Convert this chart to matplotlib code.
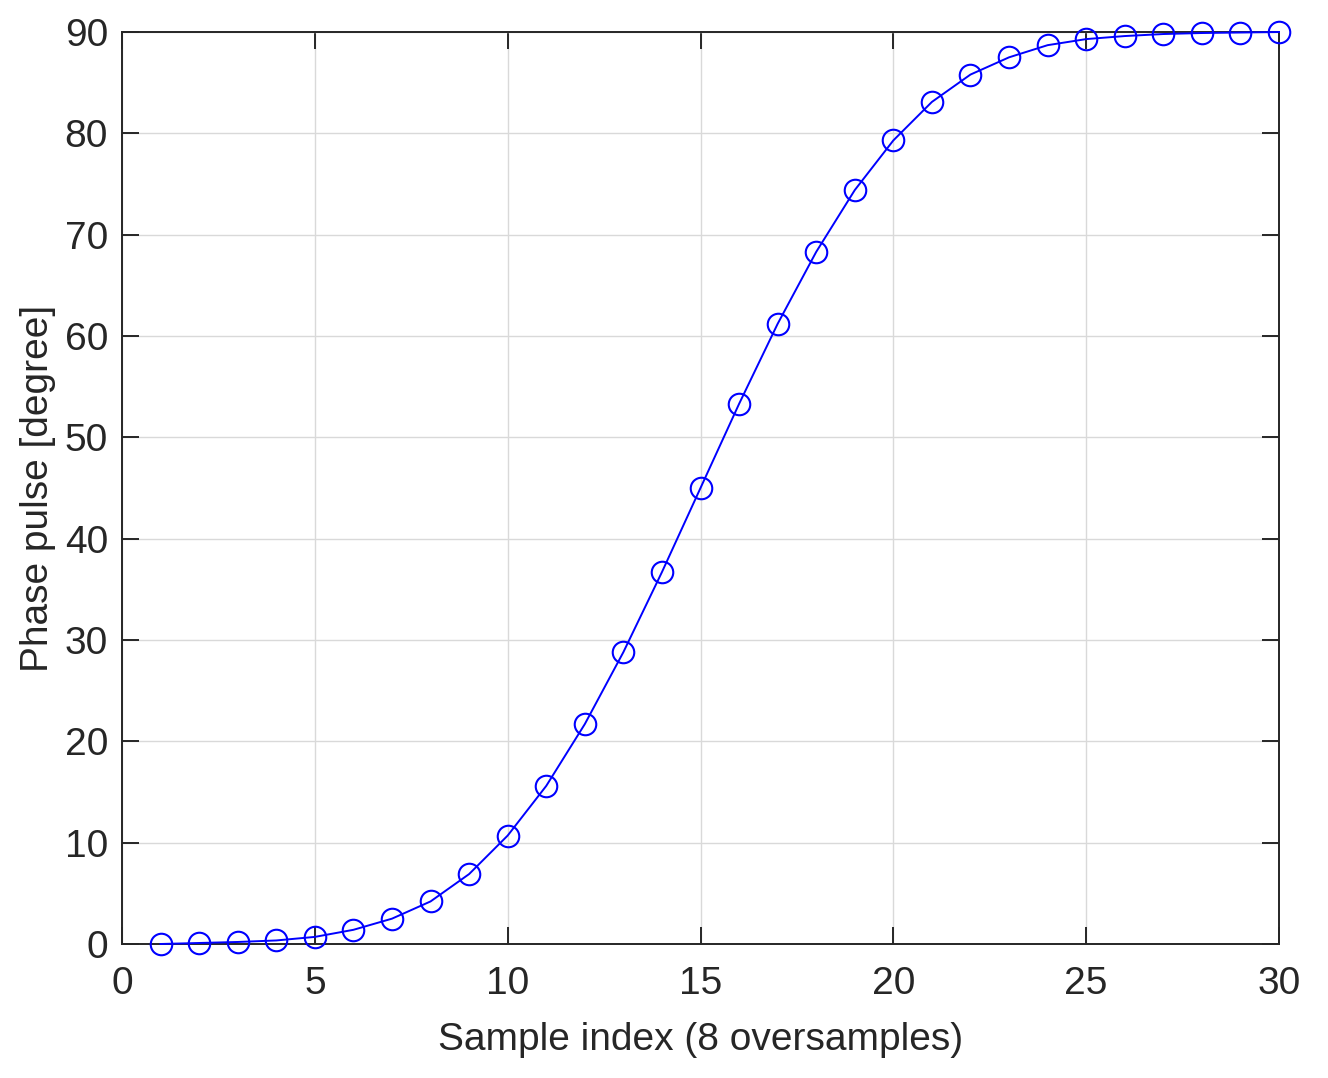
import matplotlib.pyplot as plt
import numpy as np

plt.rcParams["font.family"] = ["Liberation Sans", "DejaVu Sans"]

# sample index and phase pulse value (degree)
sample_idx = np.arange(1, 31)
phase_deg = [0.0, 0.1, 0.2, 0.35, 0.7, 1.4, 2.5, 4.2, 6.9, 10.7,
             15.6, 21.7, 28.8, 36.7, 45.0, 53.3, 61.2, 68.3, 74.4, 79.3,
             83.1, 85.8, 87.5, 88.7, 89.3, 89.6, 89.8, 89.9, 89.95, 90.0]

AX_COLOR = "#262626"

fig = plt.figure(figsize=(13.28, 10.78), dpi=100)
ax = fig.add_axes([122 / 1328, 1 - 944 / 1078, (1279 - 122) / 1328, (944 - 32) / 1078])

ax.plot(sample_idx, phase_deg, color="blue", lw=1.4, marker="o", ms=15.5,
        mfc="none", mec="blue", mew=1.5, clip_on=False, zorder=3)

ax.set_xlim(0, 30)
ax.set_ylim(0, 90)
ax.set_xticks(np.arange(0, 31, 5))
ax.set_yticks(np.arange(0, 91, 10))
ax.grid(True, color="#d9d9d9", lw=1.0)
ax.set_axisbelow(True)

for sp in ax.spines.values():
    sp.set_color(AX_COLOR)
    sp.set_linewidth(1.4)
ax.tick_params(direction="in", length=12, width=1.4, colors=AX_COLOR,
               labelsize=28, top=True, right=True)
ax.tick_params(axis="x", pad=16)
ax.tick_params(axis="y", pad=10)

ax.set_xlabel("Sample index (8 oversamples)", fontsize=28, color=AX_COLOR, labelpad=14)
ax.set_ylabel("Phase pulse [degree]", fontsize=28, color=AX_COLOR, labelpad=6)

plt.savefig("out.png", dpi=100)
